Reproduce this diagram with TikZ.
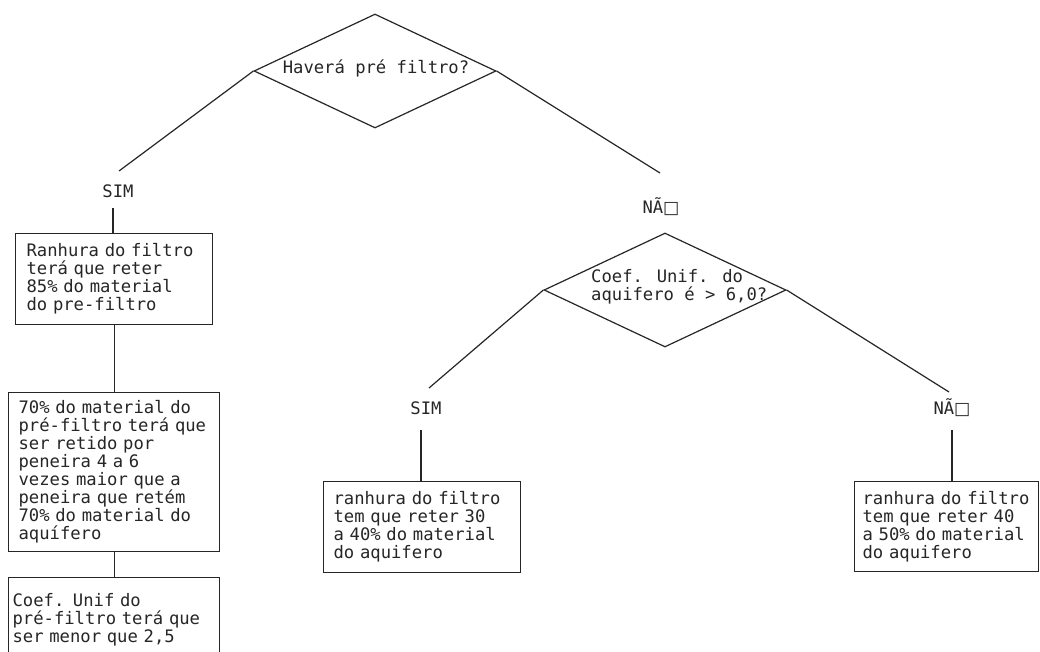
\documentclass[tikz,border=0pt]{standalone}
\usepackage{fontspec}
\newfontfamily\cadfont{DejaVu Sans Mono}
\newfontfamily\symfont{DejaVu Sans}
\usetikzlibrary{shapes.geometric}
\begin{document}
\begin{tikzpicture}[x=1pt,y=-1pt,
  every node/.style={font=\cadfont\fontsize{17.2}{18}\selectfont, text=black!85},
  conn/.style={line width=1.2pt, draw=black!85},
  box/.style={draw=black!85, line width=1.2pt, rectangle, anchor=north west, align=left, inner ysep=0pt},
  dia/.style={draw=black!85, line width=1.2pt, diamond, minimum width=242pt, minimum height=114pt, inner sep=0pt},
  lbl/.style={inner sep=0pt}]
\useasboundingbox (0,0) rectangle (1040,652);
\fill[white] (0,0) rectangle (1040,652);

% decisions
\node[dia] (d1) at (375,71) {};
\node[lbl] (q1) at (376,68) {Haverá pré filtro?};
\node[dia] (d2) at (665,290) {};
\node[lbl, anchor=west, align=left] (q2) at (591,287) {Coef. Unif. do\\aquifero é > 6,0?};

% branch labels
\node[lbl] (sim1) at (118,191) {SIM};
\node[lbl] (nao1) at (661,207) {NÃ{\symfont □}};
\node[lbl] (sim2) at (426,408) {SIM};
\node[lbl] (nao2) at (952,408) {NÃ{\symfont □}};

% boxes
\node[box, inner xsep=11pt, text width=175pt, minimum height=91pt] (b1) at (15,233)
  {Ranhura do filtro\\terá que reter\\85\% do material\\do pre-filtro};
\node[box, inner xsep=10pt, text width=191pt, minimum height=159pt] (b2) at (8,392)
  {70\% do material do\\pré-filtro terá que\\ser retido por\\peneira 4 a 6\\vezes maior que a\\peneira que retém\\70\% do material do\\aquífero};
\node[box, inner xsep=4pt, text width=203pt, minimum height=84pt] (b3) at (8,577)
  {Coef. Unif do\\pré-filtro terá que\\ser menor que 2,5};
\node[box, inner xsep=10pt, text width=177pt, minimum height=91pt] (b4) at (323,481)
  {ranhura do filtro\\tem que reter 30\\a 40\% do material\\do aquifero};
\node[box, inner xsep=8pt, text width=168pt, minimum height=90pt] (b5) at (854,481)
  {ranhura do filtro\\tem que reter 40\\a 50\% do material\\do aquifero};

% connector ends
\coordinate (e1) at (119,171);
\coordinate (e2) at (660,173);
\coordinate (e3) at (429,388);
\coordinate (e4) at (949,392);
\coordinate (t1) at (113,208);
\coordinate (t4) at (421,430);
\coordinate (t5) at (952,430);

% connectors
\draw[conn] (d1.west) -- (e1);
\draw[conn] (d1.east) -- (e2);
\draw[conn] (d2.west) -- (e3);
\draw[conn] (d2.east) -- (e4);
\draw[conn] (t1) -- (t1 |- b1.north);
\draw[conn] (b1.south) -- (b2.north);
\draw[conn] (b2.south) -- (b3.north);
\draw[conn] (t4) -- (t4 |- b4.north);
\draw[conn] (t5) -- (t5 |- b5.north);
\end{tikzpicture}
\end{document}
